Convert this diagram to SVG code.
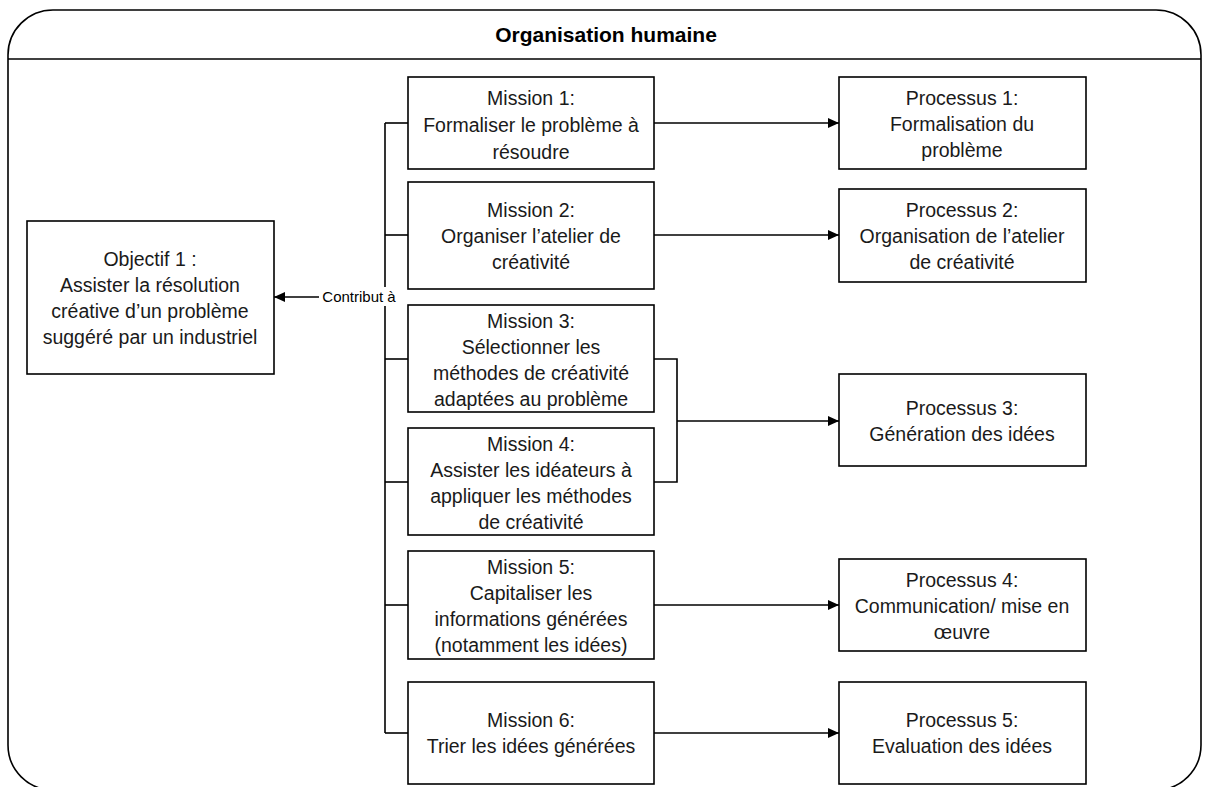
<svg xmlns="http://www.w3.org/2000/svg" width="1210" height="787" viewBox="0 0 1210 787">
<style>
.box{fill:#fff;stroke:#000;stroke-width:1.6}
.t{font-family:"Liberation Sans",Arial,sans-serif;font-size:19.5px;fill:#1a1a1a;text-anchor:middle}
.c{fill:none;stroke:#000;stroke-width:1.6}
.lbl{font-family:"Liberation Sans",Arial,sans-serif;font-size:15px;fill:#000;text-anchor:middle}
</style>
<defs>
<marker id="arr" markerUnits="userSpaceOnUse" markerWidth="12" markerHeight="10" refX="11" refY="5" orient="auto">
<path d="M0,0 L11,5 L0,10 Z" fill="#000"/>
</marker>
</defs>
<rect width="1210" height="787" fill="#fff"/>
<g id="frame">
<path d="M8,55 A45,45 0 0 1 53,10 L1156,10 A45,45 0 0 1 1201,55 L1201,745 A45,45 0 0 1 1156,790 L53,790 A45,45 0 0 1 8,745 Z" fill="none" stroke="#000" stroke-width="1.6"/>
<line x1="8" y1="59" x2="1201" y2="59" stroke="#000" stroke-width="1.6"/>
<text x="606" y="42" font-family="'Liberation Sans',Arial,sans-serif" font-size="21" font-weight="bold" text-anchor="middle">Organisation humaine</text>
</g>
<g id="connectors">
<line class="c" x1="385" y1="123" x2="385" y2="733"/>
<line class="c" x1="385" y1="123" x2="408" y2="123"/>
<line class="c" x1="385" y1="235" x2="408" y2="235"/>
<line class="c" x1="385" y1="359" x2="408" y2="359"/>
<line class="c" x1="385" y1="482" x2="408" y2="482"/>
<line class="c" x1="385" y1="605" x2="408" y2="605"/>
<line class="c" x1="385" y1="733" x2="408" y2="733"/>
<line class="c" x1="385" y1="297" x2="274" y2="297" marker-end="url(#arr)"/>
<rect x="319" y="287" width="80" height="19" fill="#fff"/>
<text class="lbl" x="359" y="302">Contribut à</text>
<line class="c" x1="654" y1="123" x2="839" y2="123" marker-end="url(#arr)"/>
<line class="c" x1="654" y1="235" x2="839" y2="235" marker-end="url(#arr)"/>
<polyline class="c" points="654,359 677,359 677,482 654,482"/>
<line class="c" x1="677" y1="421" x2="839" y2="421" marker-end="url(#arr)"/>
<line class="c" x1="654" y1="605" x2="839" y2="605" marker-end="url(#arr)"/>
<line class="c" x1="654" y1="733" x2="839" y2="733" marker-end="url(#arr)"/>
</g>
<g id="objectif1">
<rect class="box" x="27" y="221" width="247" height="153"/>
<text class="t" x="150" y="266">Objectif 1 :</text>
<text class="t" x="150" y="292">Assister la résolution</text>
<text class="t" x="150" y="318">créative d’un problème</text>
<text class="t" x="150" y="344">suggéré par un industriel</text>
</g>
<g id="mission1">
<rect class="box" x="408" y="77" width="246" height="92"/>
<text class="t" x="531" y="105">Mission 1:</text>
<text class="t" x="531" y="132">Formaliser le problème à</text>
<text class="t" x="531" y="159">résoudre</text>
</g>
<g id="mission2">
<rect class="box" x="408" y="182" width="246" height="107"/>
<text class="t" x="531" y="217">Mission 2:</text>
<text class="t" x="531" y="243">Organiser l’atelier de</text>
<text class="t" x="531" y="269">créativité</text>
</g>
<g id="mission3">
<rect class="box" x="408" y="305" width="246" height="107"/>
<text class="t" x="531" y="328">Mission 3:</text>
<text class="t" x="531" y="354">Sélectionner les</text>
<text class="t" x="531" y="380">méthodes de créativité</text>
<text class="t" x="531" y="406">adaptées au problème</text>
</g>
<g id="mission4">
<rect class="box" x="408" y="428" width="246" height="107"/>
<text class="t" x="531" y="451">Mission 4:</text>
<text class="t" x="531" y="477">Assister les idéateurs à</text>
<text class="t" x="531" y="503">appliquer les méthodes</text>
<text class="t" x="531" y="529">de créativité</text>
</g>
<g id="mission5">
<rect class="box" x="408" y="551" width="246" height="108"/>
<text class="t" x="531" y="574">Mission 5:</text>
<text class="t" x="531" y="600">Capitaliser les</text>
<text class="t" x="531" y="626">informations générées</text>
<text class="t" x="531" y="652">(notamment les idées)</text>
</g>
<g id="mission6">
<rect class="box" x="408" y="682" width="246" height="102"/>
<text class="t" x="531" y="727">Mission 6:</text>
<text class="t" x="531" y="753">Trier les idées générées</text>
</g>
<g id="processus1">
<rect class="box" x="839" y="77" width="247" height="92"/>
<text class="t" x="962" y="105">Processus 1:</text>
<text class="t" x="962" y="131">Formalisation du</text>
<text class="t" x="962" y="157">problème</text>
</g>
<g id="processus2">
<rect class="box" x="839" y="189" width="247" height="93"/>
<text class="t" x="962" y="217">Processus 2:</text>
<text class="t" x="962" y="243">Organisation de l’atelier</text>
<text class="t" x="962" y="269">de créativité</text>
</g>
<g id="processus3">
<rect class="box" x="839" y="374" width="247" height="92"/>
<text class="t" x="962" y="415">Processus 3:</text>
<text class="t" x="962" y="441">Génération des idées</text>
</g>
<g id="processus4">
<rect class="box" x="839" y="559" width="247" height="92"/>
<text class="t" x="962" y="587">Processus 4:</text>
<text class="t" x="962" y="613">Communication/ mise en</text>
<text class="t" x="962" y="639">œuvre</text>
</g>
<g id="processus5">
<rect class="box" x="839" y="682" width="247" height="102"/>
<text class="t" x="962" y="727">Processus 5:</text>
<text class="t" x="962" y="753">Evaluation des idées</text>
</g>
</svg>
